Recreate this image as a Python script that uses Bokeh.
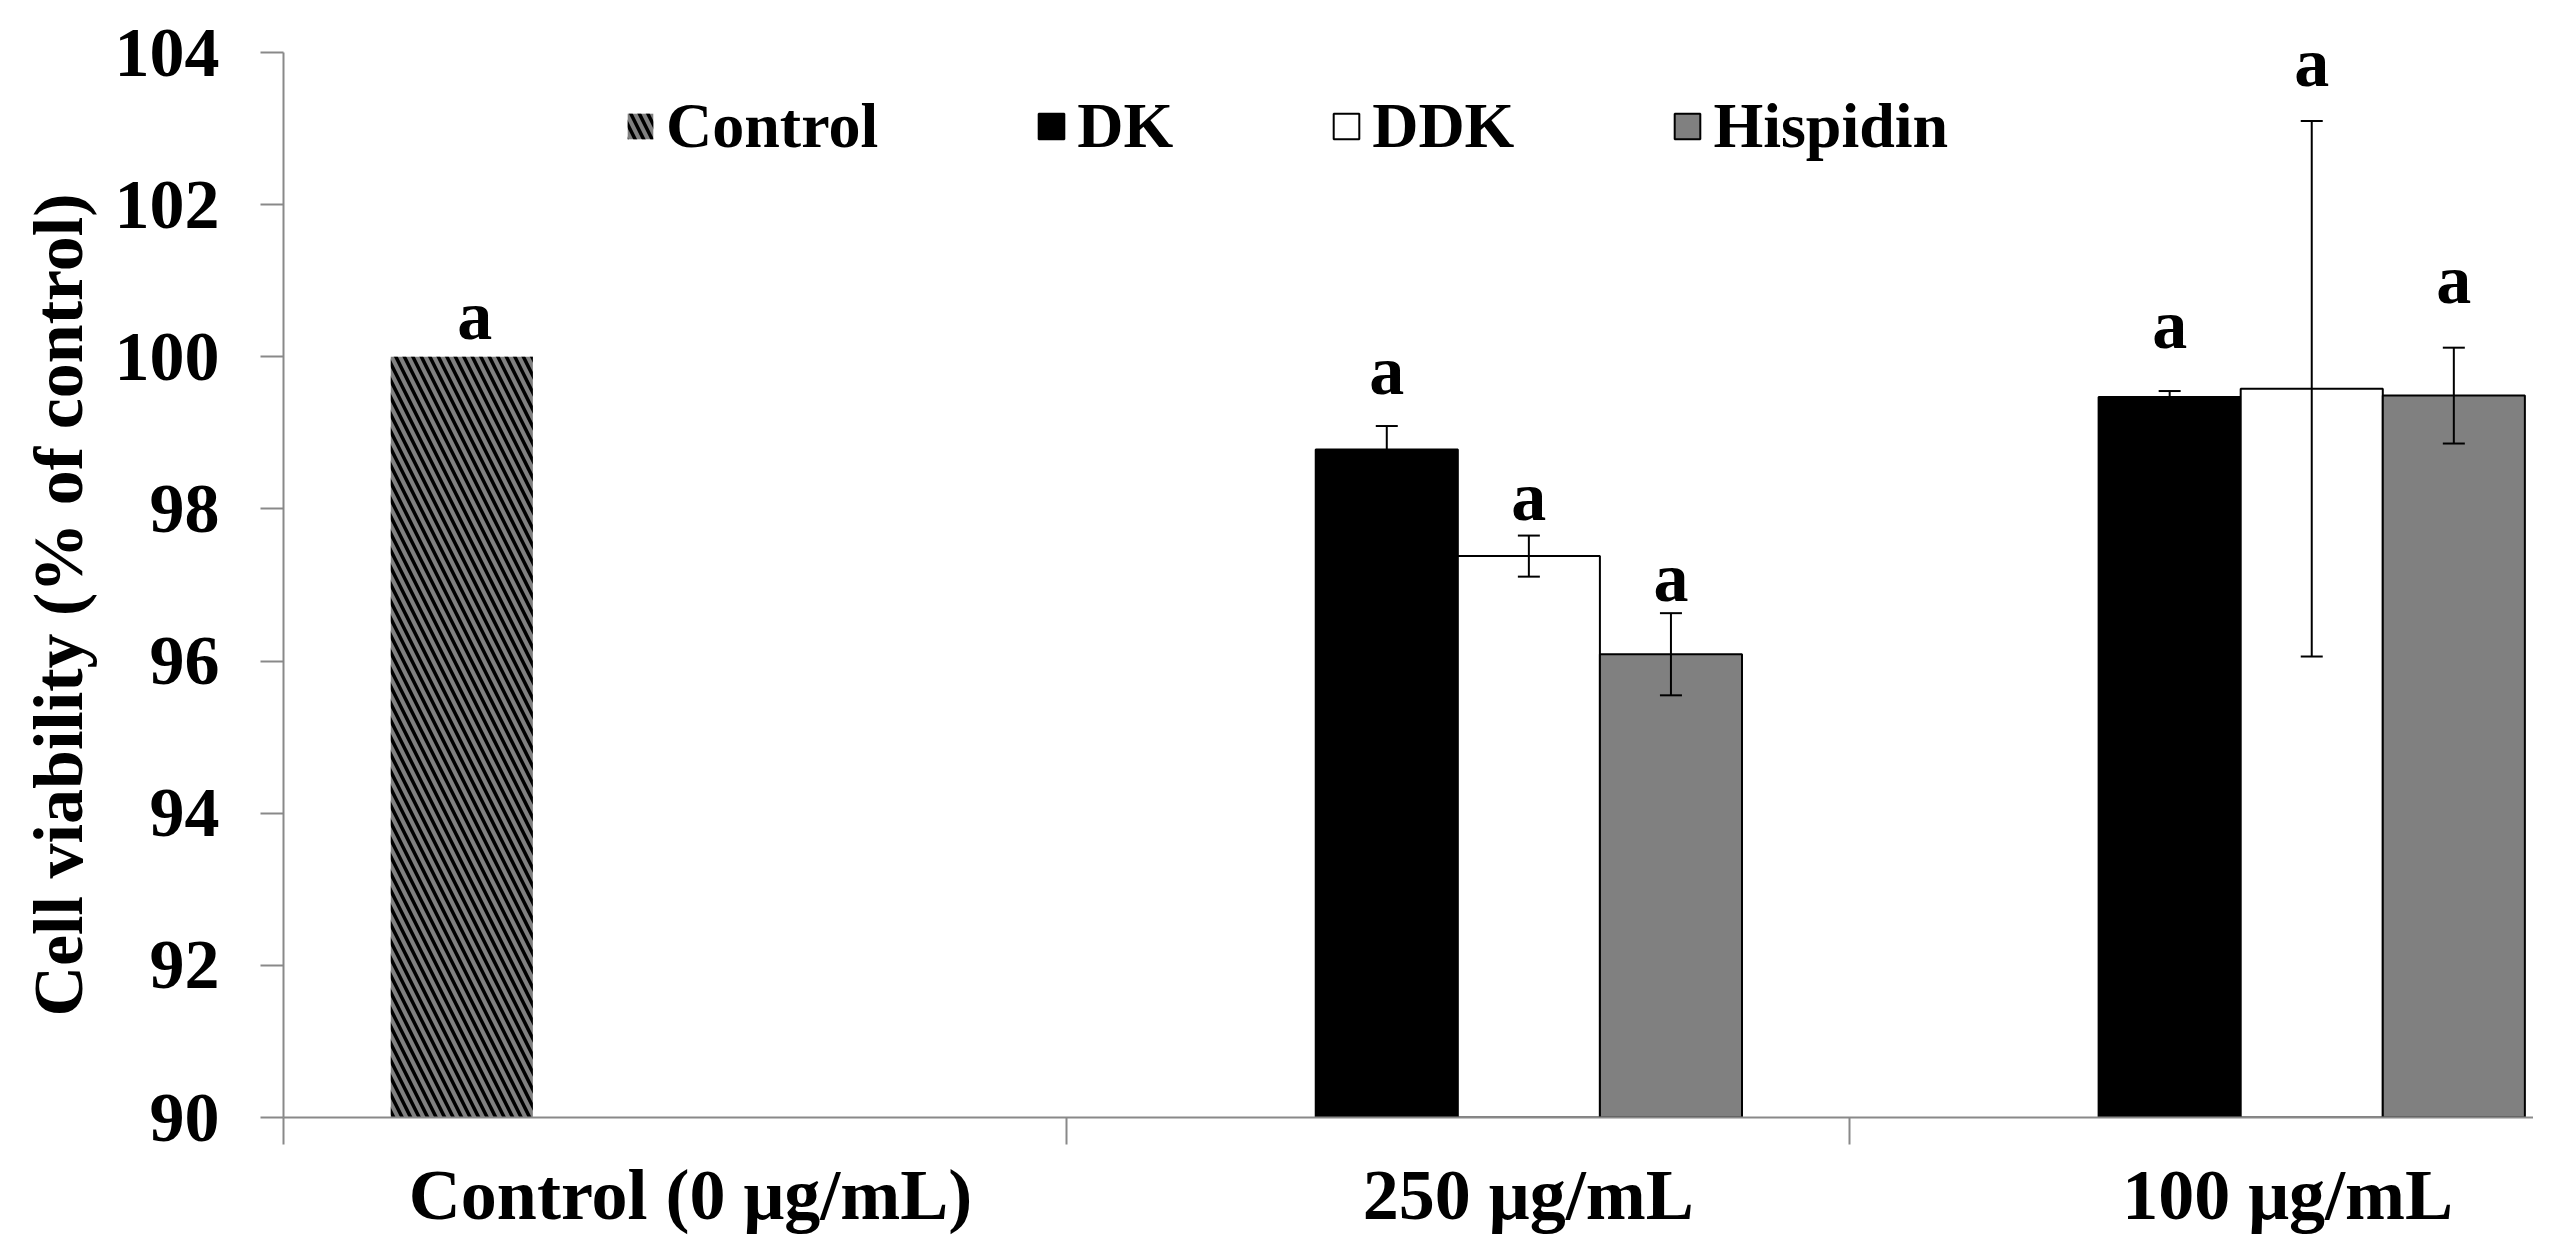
from bokeh.plotting import figure
from bokeh.models import (ColumnDataSource, Range1d, FixedTicker, Legend, LegendItem,
                          Whisker, TeeHead, Title)
from bokeh.core.properties import value
from bokeh.embed import file_html
from bokeh.resources import INLINE

# ---------------- data ----------------
categories = ["Control (0 μg/mL)", "250 μg/mL", "100 μg/mL"]
series = ["Control", "DK", "DDK", "Hispidin"]
control_vals = [100.0, None, None]
dk_vals = [None, 98.78, 99.47]
ddk_vals = [None, 97.38, 99.58]
hisp_vals = [None, 96.09, 99.49]
dk_err = [None, 0.31, 0.08]
ddk_err = [None, 0.27, 3.52]
hisp_err = [None, 0.54, 0.63]
sig_letters = ["a", "a", "a", "a", "a", "a", "a"]
letter_heights = [100.54, 99.82, 98.17, 97.10, 100.42, 103.87, 101.01]
y_ticks = [90, 92, 94, 96, 98, 100, 102, 104]
y_title = "Cell viability (% of control)"

# ---------------- layout helpers ----------------
FONT = value("Liberation Serif")
n_slots = len(series)
gap = 1.51
w = 1.0 / (n_slots + gap)


def slot_x(cat, slot):
    return cat + (gap / 2 + slot + 0.5) * w


W, H = 2533, 1238
p = figure(width=W, height=H, output_backend="svg", toolbar_location=None,
           x_range=Range1d(0, 2.874), y_range=Range1d(90, 104.684),
           min_border_left=283, min_border_right=0, min_border_top=0,
           min_border_bottom=121)
p.outline_line_color = None
p.xgrid.visible = False
p.ygrid.visible = False
p.background_fill_color = "white"

colors = {"Control": "#808080", "DK": "black", "DDK": "white", "Hispidin": "#808080"}
vals = {"Control": control_vals, "DK": dk_vals, "DDK": ddk_vals, "Hispidin": hisp_vals}
errs = {"Control": [None, None, None], "DK": dk_err, "DDK": ddk_err, "Hispidin": hisp_err}

renderers = {}
for si, s in enumerate(series):
    xs, tops, ups, lows, hx = [], [], [], [], []
    for ci, v in enumerate(vals[s]):
        if v is None:
            continue
        xs.append(slot_x(ci, si))
        tops.append(v)
        e = errs[s][ci]
        if e is not None:
            hx.append(slot_x(ci, si))
            ups.append(v + e)
            lows.append(v - e)
    src = ColumnDataSource(dict(x=xs, top=tops))
    if s == "Control":
        r = p.vbar(x="x", top="top", bottom=90, width=w, source=src,
                   fill_color=colors[s], line_color=None,
                   hatch_pattern="\\", hatch_color="black", hatch_weight=3.5, hatch_scale=17)
    else:
        r = p.vbar(x="x", top="top", bottom=90, width=w, source=src,
                   fill_color=colors[s], line_color="black", line_width=2)
    renderers[s] = r
    if hx:
        esrc = ColumnDataSource(dict(x=hx, upper=ups, lower=lows))
        wk = Whisker(base="x", upper="upper", lower="lower", source=esrc,
                     line_color="black", line_width=2, level="overlay",
                     upper_head=TeeHead(size=22, line_color="black", line_width=2),
                     lower_head=TeeHead(size=22, line_color="black", line_width=2))
        p.add_layout(wk)

# letter positions: order control, 250 (DK, DDK, Hisp), 100 (DK, DDK, Hisp)
order = [(0, 0), (1, 1), (1, 2), (1, 3), (2, 1), (2, 2), (2, 3)]
letter_x = [slot_x(ci, si) for (ci, si) in order]
letter_nudge_px = [13, 0, 0, 0, 0, 0, 0]
lsrc = ColumnDataSource(dict(x=letter_x, y=letter_heights, t=sig_letters, dx=letter_nudge_px))
p.text(x="x", y="y", text="t", x_offset="dx", source=lsrc, text_font=FONT,
       text_font_style="bold", text_font_size="70px", text_align="center",
       text_baseline="alphabetic", text_color="black")

# ---------------- axes ----------------
axis_gray = "#898989"
yax = p.yaxis[0]
yax.ticker = FixedTicker(ticks=y_ticks, minor_ticks=[])
yax.bounds = (90, 104)
yax.axis_line_color = axis_gray
yax.axis_line_width = 2
yax.major_tick_line_color = axis_gray
yax.major_tick_line_width = 2
yax.major_tick_out = 23
yax.major_tick_in = 0
yax.minor_tick_line_color = None
yax.major_label_text_font = "Liberation Serif"
yax.major_label_text_font_style = "bold"
yax.major_label_text_font_size = "70px"
yax.major_label_text_color = "black"
yax.major_label_standoff = 41

# y-axis title as a side title, positioned as in the reference
ytitle = Title(text=y_title, align="left", offset=101, standoff=30,
               text_font="Liberation Serif", text_font_style="bold",
               text_font_size="70px", text_color="black")
p.add_layout(ytitle, "left")

label_pos = [0.52, 1.59, 2.56]
xax = p.xaxis[0]
xax.ticker = FixedTicker(ticks=label_pos, minor_ticks=[0, 1, 2, 3])
xax.major_label_overrides = {label_pos[i]: categories[i] for i in range(3)}
xax.axis_line_color = axis_gray
xax.axis_line_width = 2
xax.major_tick_line_color = None
xax.major_tick_out = 0
xax.major_tick_in = 0
xax.minor_tick_line_color = axis_gray
xax.minor_tick_line_width = 2
xax.minor_tick_out = 27
xax.minor_tick_in = 0
xax.major_label_text_font = "Liberation Serif"
xax.major_label_text_font_style = "bold"
xax.major_label_text_font_size = "72px"
xax.major_label_text_color = "black"
xax.major_label_standoff = 10

# ---------------- legend ----------------
legend = Legend(items=[LegendItem(label=s, renderers=[renderers[s]]) for s in series],
                orientation="horizontal", location=(341, 954),
                glyph_width=32, glyph_height=32, label_standoff=10, spacing=157,
                padding=0, margin=0, border_line_color=None, background_fill_alpha=0,
                label_text_font="Liberation Serif", label_text_font_style="bold",
                label_text_font_size="64px", label_text_color="black")
p.add_layout(legend)

open("out.html", "w").write(file_html(p, INLINE))
